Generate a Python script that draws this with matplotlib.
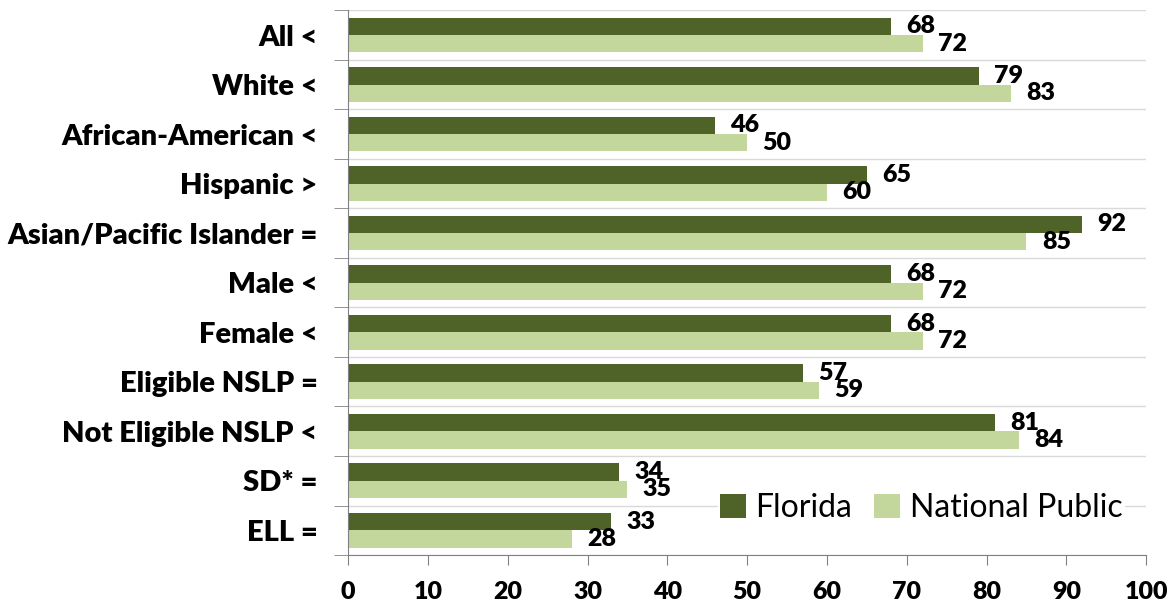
import matplotlib
matplotlib.use("Agg")
import matplotlib.pyplot as plt
import numpy as np

# data
groups = ["All <", "White <", "African-American <", "Hispanic >",
          "Asian/Pacific Islander =", "Male <", "Female <", "Eligible NSLP =",
          "Not Eligible NSLP <", "SD* =", "ELL ="]
florida = [68, 79, 46, 65, 92, 68, 68, 57, 81, 34, 33]
national = [72, 83, 50, 60, 85, 72, 72, 59, 84, 35, 28]
xticks = list(range(0, 101, 10))

dark = "#4F6228"
light = "#C3D69B"
wt = "heavy"

plt.rcParams["font.family"] = ["Lato", "DejaVu Sans"]

fig = plt.figure(figsize=(11.72, 6.05), dpi=100)
ax = fig.add_axes([0.297, 0.0826, 0.681, 0.9004])

y = np.arange(len(groups))
h = 0.35
ax.barh(y - h / 2, florida, height=h, color=dark, zorder=2)
ax.barh(y + h / 2, national, height=h, color=light, zorder=2)

for i in range(len(groups)):
    ax.annotate(str(florida[i]), (florida[i], y[i] - h / 2), xytext=(11, 0),
                textcoords="offset points", fontsize=18, fontweight=wt,
                va="center", ha="left")
    ax.annotate(str(national[i]), (national[i], y[i] + h / 2), xytext=(11, 0),
                textcoords="offset points", fontsize=18, fontweight=wt,
                va="center", ha="left")

ax.set_ylim(len(groups) - 0.5, -0.5)
ax.set_xlim(0, 100)
ax.set_xticks(xticks)
ax.set_xticklabels([str(v) for v in xticks], fontsize=18, fontweight=wt)
ax.set_yticks(y)
ax.set_yticklabels(groups, fontsize=21, fontweight=wt)
ax.set_yticks(np.arange(-0.5, len(groups), 1), minor=True)
ax.tick_params(axis="y", which="major", length=0, pad=22)
ax.tick_params(axis="y", which="minor", length=10, color="#808080")
ax.tick_params(axis="x", length=7, color="#808080", pad=12)
ax.grid(axis="y", which="minor", color="#D9D9D9", linewidth=1, zorder=0)

for s in ["top", "right"]:
    ax.spines[s].set_visible(False)
ax.spines["left"].set_color("#808080")
ax.spines["bottom"].set_color("#808080")

ax.legend(["Florida", "National Public"], loc="center right", bbox_to_anchor=(0.972, 0.086),
          ncol=2, frameon=True, framealpha=1, edgecolor="white", fontsize=23,
          handlelength=0.8, handleheight=0.8, handletextpad=0.3, columnspacing=0.7,
          borderpad=0.05, borderaxespad=0)

fig.savefig("out.png", dpi=100)
